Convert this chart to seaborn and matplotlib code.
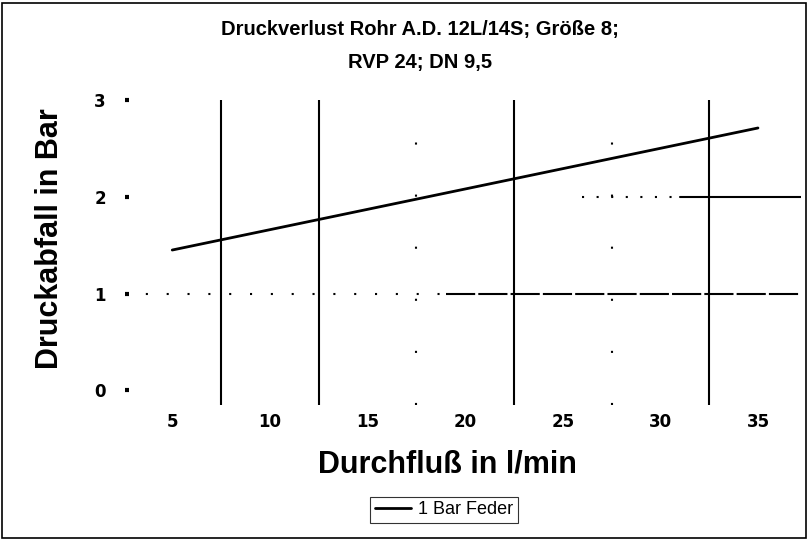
import matplotlib
matplotlib.use('Agg')
import matplotlib.pyplot as plt
import seaborn as sns
import pandas as pd
from matplotlib.patches import Rectangle

# Data
flow = [5, 10, 15, 20, 25, 30, 35]
pressure = [1.45, 1.66, 1.87, 2.08, 2.29, 2.50, 2.71]
solid_vlines = [7.5, 12.5, 22.5, 32.5]
dotted_vlines = [17.5, 27.5]
xticks = [5, 10, 15, 20, 25, 30, 35]
yticks = [0, 1, 2, 3]

df = pd.DataFrame({'Durchfluss': flow, 'Druck': pressure})

sns.set_style('white')
plt.rcParams['font.family'] = ['Liberation Sans', 'DejaVu Sans']
plt.rcParams['text.color'] = 'black'
plt.rcParams['axes.labelcolor'] = 'black'
plt.rcParams['xtick.color'] = 'black'
plt.rcParams['ytick.color'] = 'black'

fig = plt.figure(figsize=(8.09, 5.40), dpi=100)
ax = fig.add_axes([0.155, 0.25, 0.835, 0.565])

# Grid lines
for x in solid_vlines:
    ax.axvline(x, color='black', lw=1.5, zorder=1)
for x in dotted_vlines:
    ax.axvline(x, color='black', lw=1.5, ls=(0, (1, 24)), zorder=1)
ax.plot([2.6, 19], [1, 1], color='black', lw=1.5, ls=(0, (1, 9)))
ax.plot([19, 37.2], [1, 1], color='black', lw=1.5, ls=(0, (14, 1.5)))
ax.plot([26, 31], [2, 2], color='black', lw=1.5, ls=(0, (1, 6)))
ax.plot([31, 37.2], [2, 2], color='black', lw=1.5)

sns.lineplot(data=df, x='Durchfluss', y='Druck', color='black', lw=2,
             ax=ax, label='1 Bar Feder', zorder=3)

ax.set_xlim(2.6, 37.2)
ax.set_ylim(-0.15, 3.0)
ax.set_xticks(xticks)
ax.set_yticks(yticks)
for s in ax.spines.values():
    s.set_visible(False)
ax.tick_params(axis='x', labelsize=12, length=0, pad=6)
ax.tick_params(axis='y', left=True, labelsize=12, length=3, width=3,
               direction='in', pad=14)
for lab in ax.get_xticklabels() + ax.get_yticklabels():
    lab.set_fontweight('bold')
    lab.set_family('DejaVu Sans')

ax.set_xlabel('Durchfluß in l/min', fontsize=22, fontweight='bold')
ax.set_ylabel('Druckabfall in Bar', fontsize=22, fontweight='bold')
ax.xaxis.set_label_coords(0.477, -0.145)
ax.yaxis.set_label_coords(-0.089, 0.544)
fig.text(0.519, 0.945, 'Druckverlust Rohr A.D. 12L/14S; Größe 8;', ha='center',
         va='center', fontsize=14.5, fontweight='bold')
fig.text(0.519, 0.885, 'RVP 24; DN 9,5', ha='center', va='center',
         fontsize=14.5, fontweight='bold')

leg = ax.legend(loc='center', bbox_to_anchor=(0.549, 0.056), bbox_transform=fig.transFigure,
                fontsize=13, frameon=True, fancybox=False, handlelength=2.0,
                borderpad=0.25, handletextpad=0.4)
leg.get_frame().set_edgecolor('black')
leg.get_frame().set_linewidth(0.8)

fig.patches.append(Rectangle((0.003, 0.004), 0.993, 0.991, transform=fig.transFigure,
                             fill=False, edgecolor='black', lw=1.2))

fig.savefig('out.png', dpi=100)
